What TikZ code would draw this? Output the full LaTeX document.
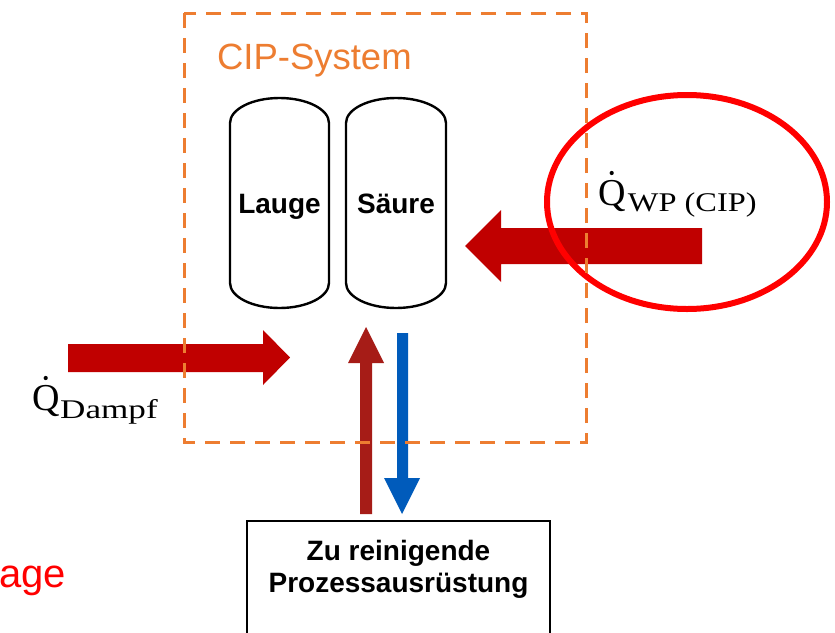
\documentclass[tikz,border=0pt]{standalone}
\usepackage{fontspec}
\setmainfont{Liberation Serif}
\setsansfont{Liberation Sans}
\definecolor{cipor}{HTML}{ED7D31}
\definecolor{heatred}{HTML}{C00000}
\definecolor{upred}{HTML}{A61C17}
\definecolor{downblue}{HTML}{005BBB}
\definecolor{markred}{HTML}{FF0000}
\newcommand{\subtxt}[2]{\raisebox{-#1}{\fontsize{27}{30}\selectfont #2}}
\tikzset{
  txt/.style={inner sep=0pt, outer sep=0pt},
  tank/.style={draw=black, line width=2.4pt, fill=white},
  cipbox/.style={draw=cipor, line width=3pt, dash pattern=on 15pt off 10pt},
  qfont/.style={font=\fontsize{38}{40}\selectfont},
  labfont/.style={font=\sffamily\bfseries\fontsize{28}{32}\selectfont},
}
\begin{document}
\begin{tikzpicture}[x=1pt,y=-1pt]
\useasboundingbox (0,0) rectangle (835,632);
\fill[white] (0,0) rectangle (835,632);

% tanks
\draw[tank] (230,123) arc[start angle=180,end angle=360,x radius=49.5,y radius=25]
  -- (329,283) arc[start angle=0,end angle=180,x radius=49.5,y radius=25] -- cycle;
\draw[tank] (346,123) arc[start angle=180,end angle=360,x radius=50,y radius=25]
  -- (446,283) arc[start angle=0,end angle=180,x radius=50,y radius=25] -- cycle;
\node[txt, labfont, anchor=base] (lauge) at (279.5,213) {Lauge};
\node[txt, labfont, anchor=base] (saeure) at (396,213) {Säure};

% process equipment box
\draw[black, line width=2.2pt] (247,640) -- (247,521) -- (550,521) -- (550,640);
\node[txt, labfont, anchor=base] (proc1) at (398.5,560) {Zu reinigende};
\node[txt, labfont, anchor=base] (proc2) at (398.5,592) {Prozessausrüstung};

% block arrows
\fill[heatred] (68,344) -- (263,344) -- (263,330) -- (290,357.5) -- (263,385) -- (263,372) -- (68,372) -- cycle;
\fill[heatred] (702,228) -- (501,228) -- (501,210) -- (465,246) -- (501,282) -- (501,264) -- (702,264) -- cycle;
\fill[upred] (360,514) -- (360,363) -- (348,363) -- (366,327) -- (384,363) -- (372,363) -- (372,514) -- cycle;
\fill[downblue] (397,333) -- (408,333) -- (408,478) -- (420,478) -- (402,514) -- (384,478) -- (397,478) -- cycle;

% highlight ellipse
\draw[markred, line width=6pt] (687,202) ellipse[x radius=140, y radius=107];

% CIP system boundary
\draw[cipbox] (184,13) rectangle (586,442);
\node[txt, anchor=base west, text=cipor, font=\sffamily\fontsize{36.5}{40}\selectfont] (cip) at (217,69) {CIP-System};

% heat flow labels (Q with dot accent)
\node[txt, qfont, anchor=base west] (qwp) at (598,205) {Q\kern2.5pt\subtxt{6pt}{\scalebox{1.2}[1]{WP (CIP)}}};
\fill[black] (qwp.base west) ++(13.7,-32) circle[radius=2.1pt];
\node[txt, qfont, anchor=base west] (qd) at (32,410) {Q\kern0.8pt\subtxt{8pt}{\scalebox{1.3}[1]{Dampf}}};
\fill[black] (qd.base west) ++(13.7,-32) circle[radius=2.1pt];

% cut text
\node[txt, anchor=base east, text=markred, font=\sffamily\fontsize{40}{44}\selectfont] (cut) at (66,587) {age};
\end{tikzpicture}
\end{document}
